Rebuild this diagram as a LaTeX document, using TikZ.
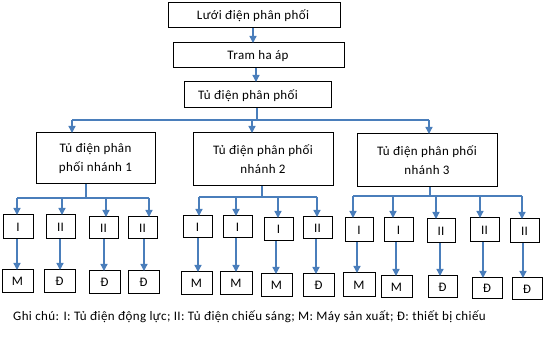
\documentclass[tikz,border=0pt]{standalone}
\usepackage{fontspec}
\setmainfont{Carlito}[LetterSpace=3]
\usetikzlibrary{arrows.meta}
\definecolor{lnblue}{HTML}{4A7EBB}
\tikzset{
  txtf/.style={font=\fontsize{13}{16}\selectfont},
  boxst/.style={draw=black, line width=1pt, inner sep=0pt, outer sep=0pt, txtf, align=center},
  conn/.style={draw=lnblue, line width=1.3pt},
  arr/.style={conn, -{Triangle[width=7pt,length=7pt]}}
}
\newcommand\bx[6]{\node[boxst, minimum width={#4-#2}, minimum height={#5-#3}] (#1) at ({(#2+#4)/2},{(#3+#5)/2}) {#6};}
\begin{document}
\begin{tikzpicture}[x=1pt,y=-1pt]
\useasboundingbox (0,0) rectangle (544,339);
% top chain
\bx{top}{168}{3}{340}{28}{}
\node[txtf] (toptx) at (253,16) {Lưới điện phân phối};
\bx{tram}{173}{43}{344}{68}{}
\node[txtf] (tramtx) at (258,56) {Tram ha áp};
\bx{tu}{184}{82}{331}{108}{}
\node[txtf] (tutx) at (248,96) {Tủ điện phân phối};
\draw[arr] (253,28 |- top.south) -- (253,28 |- tram.north);
\draw[arr] (256,68 |- tram.south) -- (256,68 |- tu.north);
% branch boxes
\bx{b1}{36}{133}{155}{184}{Tủ điện phân\\[3pt]phối nhánh 1}
\bx{b2}{193}{133}{333}{186}{Tủ điện phân phối\\[3pt]nhánh 2}
\bx{b3}{357}{134}{497}{187}{Tủ điện phân phối\\[3pt]nhánh 3}
\coordinate (jt) at (257,120);
\coordinate (jt1) at (72,120);
\coordinate (jt2) at (252,120);
\coordinate (jt3) at (429,120);
\draw[conn] (jt |- tu.south) -- (jt);
\draw[conn] (jt1) -- (jt3);
\draw[arr] (jt1) -- (jt1 |- b1.north);
\draw[arr] (jt2) -- (jt2 |- b2.north);
\draw[arr] (jt3) -- (jt3 |- b3.north);
% branch 1 level 2
\bx{c11}{3}{215}{33}{239}{I}
\bx{c12}{46}{215}{75}{239}{II}
\bx{c13}{89}{217}{118}{239}{II}
\bx{c14}{128}{217}{157}{239}{II}
\bx{d11}{2}{270}{33}{293}{M}
\bx{d12}{44}{270}{75}{293}{Đ}
\bx{d13}{89}{271}{120}{294}{Đ}
\bx{d14}{128}{271}{159}{294}{Đ}
\coordinate (s1) at (86,198);
\coordinate (j11) at (17,198);
\coordinate (j12) at (62,198);
\coordinate (j13) at (106,198);
\coordinate (j14) at (149,198);
\draw[conn] (s1 |- b1.south) -- (s1);
\draw[conn] (j11) -- (j14);
\foreach \i in {1,2,3,4} {\draw[arr] (j1\i) -- (j1\i |- c1\i.north);}
\draw[arr] (17,0 |- c11.south) -- (17,0 |- d11.north);
\draw[arr] (60,0 |- c12.south) -- (60,0 |- d12.north);
\draw[arr] (104,0 |- c13.south) -- (104,0 |- d13.north);
\draw[arr] (144,0 |- c14.south) -- (144,0 |- d14.north);
% branch 2 level 2
\bx{c21}{183}{216}{212}{238}{I}
\bx{c22}{223}{216}{252}{238}{I}
\bx{c23}{264}{218}{293}{241}{I}
\bx{c24}{303}{217}{332}{239}{II}
\bx{d21}{181}{272}{212}{295}{M}
\bx{d22}{220}{272}{252}{295}{M}
\bx{d23}{261}{274}{292}{297}{M}
\bx{d24}{303}{274}{334}{297}{Đ}
\coordinate (s2) at (262,197);
\coordinate (j21) at (199,197);
\coordinate (j22) at (236,197);
\coordinate (j23) at (278,197);
\coordinate (j24) at (317,197);
\draw[conn] (s2 |- b2.south) -- (s2);
\draw[conn] (j21) -- (j24);
\foreach \i in {1,2,3,4} {\draw[arr] (j2\i) -- (j2\i |- c2\i.north);}
\draw[arr] (198,0 |- c21.south) -- (198,0 |- d21.north);
\draw[arr] (236,0 |- c22.south) -- (236,0 |- d22.north);
\draw[arr] (276,0 |- c23.south) -- (276,0 |- d23.north);
\draw[arr] (316,0 |- c24.south) -- (316,0 |- d24.north);
% branch 3 level 2
\bx{c31}{345}{218}{373}{242}{I}
\bx{c32}{384}{218}{413}{242}{I}
\bx{c33}{427}{219}{455}{243}{II}
\bx{c34}{470}{218}{499}{242}{II}
\bx{c35}{510}{219}{539}{243}{II}
\bx{d31}{343}{273}{375}{297}{M}
\bx{d32}{381}{276}{412}{298}{M}
\bx{d33}{428}{276}{457}{298}{Đ}
\bx{d34}{472}{278}{502}{299}{Đ}
\bx{d35}{512}{278}{542}{300}{Đ}
\coordinate (s3) at (430,196);
\coordinate (j31) at (353,196);
\coordinate (j32) at (393,196);
\coordinate (j33) at (436,196);
\coordinate (j34) at (480,196);
\coordinate (j35) at (522,196);
\draw[conn] (s3 |- b3.south) -- (s3);
\draw[conn] (j31) -- (j35);
\foreach \i in {1,2,3,4,5} {\draw[arr] (j3\i) -- (j3\i |- c3\i.north);}
\draw[arr] (357,0 |- c31.south) -- (357,0 |- d31.north);
\draw[arr] (396,0 |- c32.south) -- (396,0 |- d32.north);
\draw[arr] (440,0 |- c33.south) -- (440,0 |- d33.north);
\draw[arr] (483,0 |- c34.south) -- (483,0 |- d34.north);
\draw[arr] (523,0 |- c35.south) -- (523,0 |- d35.north);
% caption
\node[anchor=base west, inner sep=0pt, txtf] (cap) at (13,320) {Ghi chú: I: Tủ điện động lực; II: Tủ điện chiếu sáng; M: Máy sản xuất; Đ: thiết bị chiếu};
\end{tikzpicture}
\end{document}
